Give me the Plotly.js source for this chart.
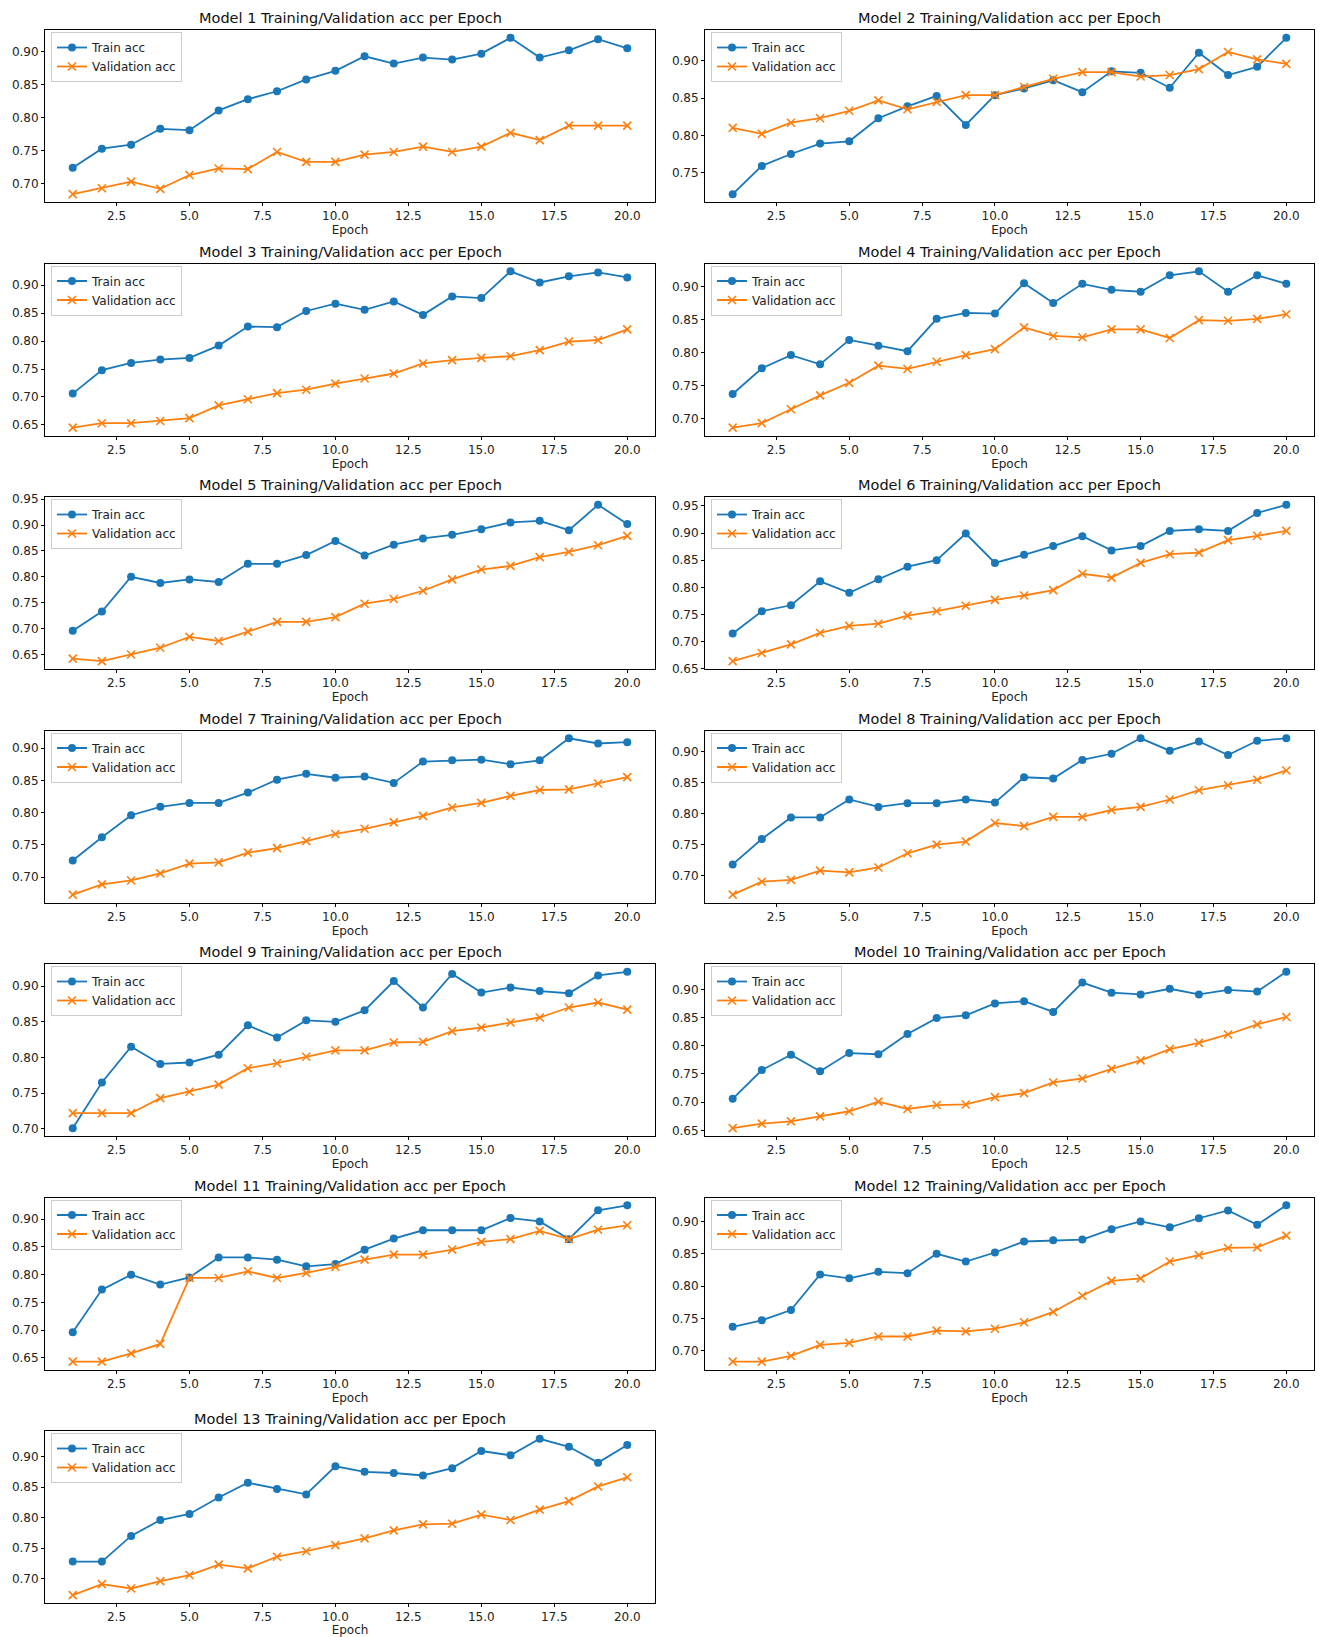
<!DOCTYPE html>
<html><head><meta charset="utf-8">
<script src="https://cdn.plot.ly/plotly-3.0.1.min.js"></script>
<style>html,body{margin:0;padding:0;background:#fff}#chart{width:1319px;height:1637px}</style>
</head><body><div id="chart"></div>
<script>
const epochs = [1,2,3,4,5,6,7,8,9,10,11,12,13,14,15,16,17,18,19,20];
const modelNames = ["Model 1","Model 2","Model 3","Model 4","Model 5","Model 6","Model 7","Model 8","Model 9","Model 10","Model 11","Model 12","Model 13"];
const titleSuffix = " Training/Validation acc per Epoch";
const seriesNames = ["Train acc","Validation acc"];
const xAxisLabel = "Epoch";

const train1 = [0.724,0.753,0.759,0.783,0.781,0.811,0.828,0.840,0.858,0.871,0.893,0.882,0.891,0.888,0.897,0.921,0.891,0.902,0.919,0.905];
const val1   = [0.684,0.693,0.703,0.692,0.713,0.723,0.722,0.748,0.733,0.733,0.744,0.748,0.756,0.748,0.756,0.777,0.766,0.788,0.788,0.788];
const train2 = [0.721,0.759,0.775,0.789,0.792,0.823,0.839,0.853,0.814,0.854,0.863,0.874,0.858,0.886,0.884,0.864,0.911,0.881,0.892,0.931];
const val2   = [0.810,0.802,0.817,0.823,0.833,0.847,0.835,0.845,0.854,0.854,0.865,0.876,0.885,0.885,0.879,0.881,0.889,0.912,0.902,0.896];
const train3 = [0.706,0.748,0.761,0.767,0.770,0.792,0.826,0.825,0.854,0.867,0.856,0.871,0.847,0.880,0.877,0.925,0.905,0.916,0.923,0.914];
const val3   = [0.645,0.653,0.653,0.657,0.662,0.685,0.696,0.707,0.713,0.724,0.733,0.742,0.760,0.766,0.770,0.773,0.784,0.799,0.802,0.821];
const train4 = [0.737,0.776,0.796,0.782,0.819,0.810,0.802,0.851,0.860,0.859,0.905,0.875,0.904,0.895,0.892,0.917,0.923,0.892,0.917,0.904];
const val4   = [0.686,0.693,0.714,0.735,0.754,0.780,0.775,0.786,0.796,0.805,0.838,0.825,0.823,0.835,0.835,0.822,0.849,0.848,0.851,0.858];
const train5 = [0.696,0.733,0.800,0.788,0.795,0.790,0.825,0.825,0.842,0.869,0.841,0.862,0.874,0.881,0.892,0.905,0.908,0.890,0.939,0.902];
const val5   = [0.642,0.637,0.650,0.663,0.684,0.676,0.694,0.713,0.713,0.722,0.748,0.757,0.773,0.795,0.814,0.821,0.838,0.848,0.861,0.879];
const train6 = [0.715,0.756,0.767,0.811,0.790,0.815,0.838,0.850,0.899,0.845,0.860,0.876,0.894,0.868,0.876,0.904,0.907,0.904,0.937,0.952];
const val6   = [0.664,0.679,0.695,0.716,0.729,0.733,0.748,0.756,0.766,0.777,0.785,0.795,0.825,0.818,0.845,0.861,0.864,0.887,0.895,0.904];
const train7 = [0.726,0.762,0.796,0.809,0.815,0.815,0.831,0.851,0.860,0.854,0.856,0.846,0.879,0.881,0.882,0.875,0.881,0.915,0.907,0.909];
const val7   = [0.673,0.689,0.695,0.706,0.721,0.723,0.738,0.745,0.756,0.767,0.775,0.785,0.795,0.808,0.815,0.826,0.835,0.836,0.845,0.855];
const train8 = [0.718,0.759,0.794,0.794,0.823,0.811,0.817,0.817,0.823,0.818,0.859,0.857,0.887,0.897,0.922,0.902,0.917,0.895,0.918,0.922];
const val8   = [0.669,0.690,0.693,0.708,0.705,0.713,0.736,0.750,0.755,0.785,0.780,0.795,0.795,0.806,0.811,0.823,0.838,0.846,0.855,0.870];
const train9 = [0.701,0.765,0.815,0.791,0.793,0.804,0.845,0.828,0.852,0.850,0.866,0.907,0.870,0.917,0.891,0.898,0.893,0.890,0.915,0.920];
const val9   = [0.722,0.722,0.722,0.743,0.752,0.762,0.785,0.792,0.801,0.810,0.810,0.821,0.822,0.837,0.842,0.849,0.856,0.870,0.877,0.867];
const train10 = [0.706,0.757,0.784,0.755,0.787,0.785,0.821,0.849,0.854,0.875,0.879,0.860,0.912,0.894,0.891,0.901,0.891,0.899,0.896,0.931];
const val10   = [0.654,0.662,0.666,0.675,0.684,0.701,0.688,0.695,0.696,0.709,0.716,0.735,0.742,0.759,0.774,0.794,0.805,0.820,0.838,0.851];
const train11 = [0.696,0.773,0.800,0.782,0.795,0.831,0.831,0.827,0.815,0.819,0.845,0.865,0.880,0.880,0.880,0.902,0.896,0.864,0.916,0.925];
const val11   = [0.643,0.643,0.658,0.675,0.794,0.794,0.806,0.794,0.803,0.814,0.827,0.836,0.836,0.845,0.859,0.864,0.879,0.864,0.881,0.889];
const train12 = [0.737,0.747,0.763,0.818,0.812,0.822,0.820,0.850,0.838,0.852,0.869,0.871,0.872,0.888,0.900,0.891,0.905,0.917,0.895,0.925];
const val12   = [0.683,0.683,0.692,0.709,0.712,0.722,0.722,0.731,0.730,0.734,0.744,0.760,0.785,0.808,0.812,0.838,0.848,0.859,0.860,0.878];
const train13 = [0.728,0.728,0.770,0.796,0.806,0.833,0.857,0.847,0.838,0.884,0.875,0.873,0.869,0.881,0.909,0.902,0.929,0.916,0.890,0.919];
const val13   = [0.673,0.691,0.684,0.696,0.706,0.723,0.717,0.736,0.745,0.755,0.766,0.779,0.789,0.790,0.805,0.796,0.813,0.827,0.851,0.866];

const trainSeries = [train1,train2,train3,train4,train5,train6,train7,train8,train9,train10,train11,train12,train13];
const valSeries = [val1,val2,val3,val4,val5,val6,val7,val8,val9,val10,val11,val12,val13];

const W = 1319, H = 1637;
const FONT = "DejaVu Sans";
const BLUE = "#1a78b9", ORANGE = "#ff7f0e";
const colPx = [[45, 655], [705, 1314]];
const rowTopPx = 30, rowHeightPx = 172, rowStepPx = 233.5;

const data = [];
const layout = {
  width: W, height: H,
  margin: {l: 0, r: 0, t: 0, b: 0},
  paper_bgcolor: "#ffffff", plot_bgcolor: "#ffffff",
  font: {family: FONT, size: 12, color: "#000"},
  showlegend: true,
  annotations: []
};

modelNames.forEach((name, i) => {
  const row = Math.floor(i / 2), col = i % 2;
  const n = i + 1;
  const xa = n === 1 ? "x" : "x" + n;
  const ya = n === 1 ? "y" : "y" + n;
  const legName = n === 1 ? "legend" : "legend" + n;
  const x0 = colPx[col][0] / W, x1 = colPx[col][1] / W;
  const topPx = rowTopPx + row * rowStepPx;
  const y1 = 1 - topPx / H, y0 = 1 - (topPx + rowHeightPx) / H;

  const all = trainSeries[i].concat(valSeries[i]);
  const mn = Math.min(...all), mx = Math.max(...all), span = mx - mn;

  data.push({
    x: epochs, y: trainSeries[i], type: "scatter", mode: "lines+markers",
    name: seriesNames[0], xaxis: xa, yaxis: ya, legend: legName,
    line: {color: BLUE, width: 1.8},
    marker: {color: BLUE, size: 8, symbol: "circle"}
  });
  data.push({
    x: epochs, y: valSeries[i], type: "scatter", mode: "lines+markers",
    name: seriesNames[1], xaxis: xa, yaxis: ya, legend: legName,
    line: {color: ORANGE, width: 1.8},
    marker: {color: ORANGE, size: 8, symbol: "x-thin", line: {color: ORANGE, width: 1.6}}
  });

  const axCommon = {
    showline: true, linecolor: "#000", linewidth: 1, mirror: true,
    ticks: "outside", ticklen: 3, tickcolor: "#000", tickwidth: 1,
    showgrid: false, zeroline: false, automargin: false,
    tickfont: {family: FONT, size: 12, color: "#222"}, fixedrange: true
  };
  layout[n === 1 ? "xaxis" : "xaxis" + n] = Object.assign({}, axCommon, {
    domain: [x0, x1], anchor: ya,
    range: [1 - 0.95, 20 + 0.95], tick0: 0, dtick: 2.5, tickformat: ".1f",
    title: {text: xAxisLabel, font: {family: FONT, size: 12, color: "#222"}, standoff: 0}
  });
  layout[n === 1 ? "yaxis" : "yaxis" + n] = Object.assign({}, axCommon, {
    domain: [y0, y1], anchor: xa,
    range: [mn - 0.05 * span, mx + 0.05 * span], tick0: 0, dtick: 0.05, tickformat: ".2f"
  });
  layout[legName] = {
    x: x0 + 6 / W, y: y1 - 2 / H, xanchor: "left", yanchor: "top",
    xref: "paper", yref: "paper",
    bgcolor: "rgba(255,255,255,0.85)", bordercolor: "#cccccc", borderwidth: 1,
    font: {family: FONT, size: 12, color: "#222"}, itemwidth: 30,
    tracegroupgap: 0
  };
  layout.annotations.push({
    text: name + titleSuffix, xref: "paper", yref: "paper",
    x: (x0 + x1) / 2, y: y1 + 12 / H, xanchor: "center", yanchor: "middle",
    showarrow: false, font: {family: FONT, size: 14.5, color: "#111"}
  });
});

Plotly.newPlot("chart", data, layout, {staticPlot: true, displayModeBar: false});
</script>
</body></html>
